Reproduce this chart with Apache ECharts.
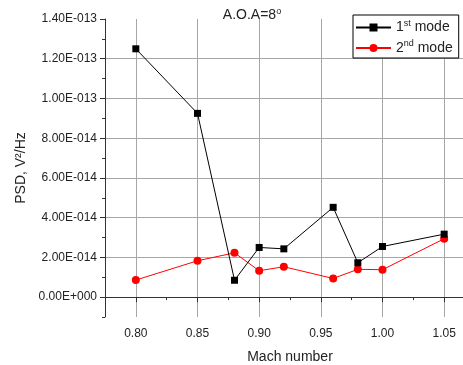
<!DOCTYPE html>
<html>
<head>
<meta charset="utf-8">
<script src="https://cdn.jsdelivr.net/npm/echarts@6/dist/echarts.min.js"></script>
<style>
  html, body { margin: 0; padding: 0; background: #fff; }
  #chart { width: 463px; height: 365px; }
</style>
</head>
<body>
<div id="chart"></div>
<script>
// Mach numbers where PSD was measured
const mach = [0.80, 0.85, 0.88, 0.90, 0.92, 0.96, 0.98, 1.00, 1.05];
// PSD, V^2/Hz
const mode1 = [1.25e-13, 9.25e-14, 0.85e-14, 2.50e-14, 2.43e-14, 4.52e-14, 1.73e-14, 2.55e-14, 3.17e-14];
const mode2 = [0.86e-14, 1.83e-14, 2.23e-14, 1.33e-14, 1.53e-14, 0.94e-14, 1.40e-14, 1.38e-14, 2.94e-14];

const FONT = "Liberation Sans, Arial, sans-serif";
const TEXT = "#222";

function sci(v) {
  if (Math.abs(v) < 1e-20) return "0.00E+000";
  let exp = Math.floor(Math.log10(Math.abs(v)));
  let m = v / Math.pow(10, exp);
  if (Math.abs(m) >= 9.995) { m /= 10; exp += 1; }
  const sign = exp < 0 ? "-" : "+";
  return m.toFixed(2) + "E" + sign + String(Math.abs(exp)).padStart(3, "0");
}

const chart = echarts.init(document.getElementById("chart"));

const supStyle = { fontSize: 9, verticalAlign: "top", padding: [0, 0, 8, 0], fontFamily: FONT, color: TEXT };

chart.setOption({
  animation: false,
  textStyle: { fontFamily: FONT },
  title: {
    text: "A.O.A=8{sup|o}",
    left: 247,
    top: 2,
    textAlign: "center",
    textStyle: {
      fontSize: 14, fontWeight: "normal", color: TEXT, fontFamily: FONT,
      rich: { sup: supStyle }
    }
  },
  grid: { left: 105, right: -12, top: 19, bottom: 48, outerBoundsMode: "none" },
  legend: {
    left: 353,
    top: 15,
    orient: "vertical",
    backgroundColor: "#fff",
    borderColor: "#000",
    borderWidth: 1,
    borderRadius: 0,
    padding: [4, 6, 3, 2],
    itemGap: 5,
    itemWidth: 35,
    itemHeight: 10,
    textStyle: {
      fontSize: 14, color: TEXT, fontFamily: FONT,
      rich: { sup: supStyle }
    },
    formatter: (name) => name === "1st mode" ? "1{sup|st} mode" : "2{sup|nd} mode",
    data: ["1st mode", "2nd mode"]
  },
  xAxis: [
    {
      type: "value",
      min: 0.775,
      max: 1.075,
      splitNumber: 6,
      name: "Mach number",
      nameLocation: "middle",
      nameGap: 33,
      nameTextStyle: { fontSize: 14, color: TEXT, fontFamily: FONT },
      axisLine: { lineStyle: { color: "#333", width: 1 } },
      axisTick: { length: 5, lineStyle: { color: "#333" } },
      axisLabel: {
        margin: 11, fontSize: 12, color: TEXT, fontFamily: FONT,
        showMinLabel: false, showMaxLabel: false, hideOverlap: false,
        formatter: (v) => v.toFixed(2)
      },
      splitLine: { show: true, showMinLine: false, lineStyle: { color: "#a6a6a6", width: 1 } }
    },
    {
      type: "value",
      position: "bottom",
      min: 0.775,
      max: 1.075,
      interval: 0.025,
      axisLine: { show: false },
      axisTick: { length: 3, lineStyle: { color: "#333" } },
      axisLabel: { show: false },
      splitLine: { show: false }
    }
  ],
  yAxis: [
    {
      type: "value",
      min: -1e-14,
      max: 1.4e-13,
      splitNumber: 7,
      name: "PSD, V²/Hz",
      nameLocation: "middle",
      nameGap: 70,
      nameTextStyle: { fontSize: 14, color: TEXT, fontFamily: FONT },
      axisLine: { show: true, lineStyle: { color: "#333", width: 1 } },
      axisTick: { show: true, length: 5, lineStyle: { color: "#333" } },
      axisLabel: {
        margin: 8, fontSize: 12, color: TEXT, fontFamily: FONT,
        showMinLabel: false,
        formatter: sci
      },
      splitLine: { show: true, showMinLine: false, showMaxLine: false, lineStyle: { color: "#a6a6a6", width: 1 } }
    },
    {
      type: "value",
      position: "left",
      min: -1e-14,
      max: 1.4e-13,
      interval: 1e-14,
      axisLine: { show: false },
      axisTick: { show: true, length: 3, lineStyle: { color: "#333" } },
      axisLabel: { show: false },
      splitLine: { show: false }
    }
  ],
  series: [
    {
      name: "1st mode",
      type: "line",
      data: mach.map((m, i) => [m, mode1[i]]),
      symbol: "rect",
      symbolSize: 7,
      showAllSymbol: true,
      lineStyle: { color: "#000", width: 1 },
      itemStyle: { color: "#000" },
      z: 3
    },
    {
      name: "2nd mode",
      type: "line",
      data: mach.map((m, i) => [m, mode2[i]]),
      symbol: "circle",
      symbolSize: 8,
      showAllSymbol: true,
      lineStyle: { color: "#ff0000", width: 1 },
      itemStyle: { color: "#ff0000" },
      z: 2
    }
  ]
});
</script>
</body>
</html>
